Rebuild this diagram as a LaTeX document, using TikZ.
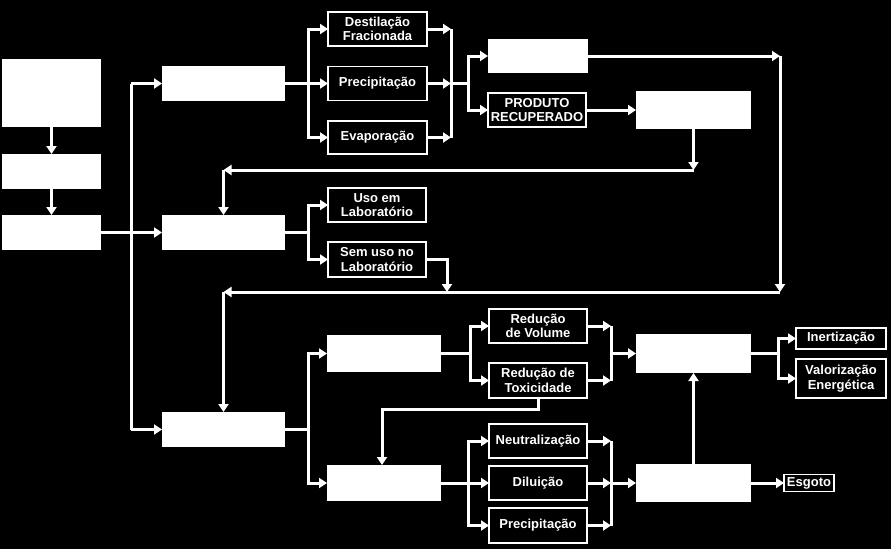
\documentclass[tikz,border=0pt]{standalone}
\usepackage{fontspec}
\setmainfont{Liberation Sans}
\usetikzlibrary{arrows.meta}
\begin{document}
\begin{tikzpicture}[x=1pt,y=-1pt,
  sz/.style 2 args={minimum width=#1pt,minimum height=#2pt},
  filled/.style={fill=white,draw=none,inner sep=0pt,outer sep=0pt},
  outl/.style={draw=white,line width=1.5pt,text=white,inner sep=0pt,outer sep=0pt,
    align=center,font=\bfseries\fontsize{13}{14.5}\selectfont},
  link/.style={draw=white,line width=3pt},
  arr/.style={link,-{Triangle[length=8pt,width=10pt]}}]
\useasboundingbox[fill=black] (0,0) rectangle (891,549);

% filled boxes
\node[filled,sz={99}{68}] (a) at (51.5,93) {};
\node[filled,sz={99}{35}] (b) at (51.5,171.5) {};
\node[filled,sz={99}{35}] (c) at (51.5,232.5) {};
\node[filled,sz={123}{35}] (d) at (223.5,83.5) {};
\node[filled,sz={123}{35}] (e) at (223.5,232.5) {};
\node[filled,sz={123}{35}] (h) at (223.5,429.5) {};
\node[filled,sz={100}{34}] (f) at (538,56) {};
\node[filled,sz={115}{38}] (g) at (693.5,110) {};
\node[filled,sz={114}{37}] (i) at (384,353.5) {};
\node[filled,sz={114}{36}] (j) at (384,483) {};
\node[filled,sz={115}{39}] (k) at (693.5,353.5) {};
\node[filled,sz={115}{38}] (l) at (693.5,483) {};

% outlined boxes
\node[outl,sz={99}{34}] (dest) at (377.5,29) {Destilação\\Fracionada};
\node[outl,sz={99}{34}] (prec1) at (377.5,83.5) {Precipitação};
\node[outl,sz={99}{33}] (evap) at (377.5,137.5) {Evaporação};
\node[outl,sz={98}{34}] (prod) at (537,110) {PRODUTO\\RECUPERADO};
\node[outl,sz={98}{34}] (uso) at (377,205) {Uso em\\Laboratório};
\node[outl,sz={98}{35}] (sem) at (377,259.5) {Sem uso no\\Laboratório};
\node[outl,sz={98}{34}] (redv) at (538,326) {Redução\\de Volume};
\node[outl,sz={98}{35}] (redt) at (538,380.5) {Redução de\\Toxicidade};
\node[outl,sz={98}{34}] (neut) at (538,441) {Neutralização};
\node[outl,sz={98}{34}] (dil) at (538,483) {Diluição};
\node[outl,sz={98}{35}] (prec2) at (538,525.5) {Precipitação};
\node[outl,sz={90}{21}] (inert) at (841,338.5) {Inertização};
\node[outl,sz={90}{39}] (valor) at (841,378.5) {Valorização\\Energética};
\node[outl,sz={50}{17}] (esg) at (809,483) {Esgoto};

% coordinates
\coordinate (t1) at (131,83.5);
\coordinate (t2) at (131,429.5);
\coordinate (s1) at (308,83.5);
\coordinate (m1) at (451,83.5);
\coordinate (s2) at (468,83.5);
\coordinate (r1) at (780,56);
\coordinate (r2) at (780,292);
\coordinate (r3) at (223.5,292);
\coordinate (q1) at (693.5,170);
\coordinate (q2) at (223.5,170);
\coordinate (s3) at (308,232.5);
\coordinate (p1) at (447,292);
\coordinate (s4) at (308,429.5);
\coordinate (s5) at (470,353.5);
\coordinate (m2) at (611,353.5);
\coordinate (u2) at (382,409);
\coordinate (s6) at (778,353.5);
\coordinate (s7) at (468,483);
\coordinate (m3) at (611,483);

% left column
\draw[arr] (a) -- (b);
\draw[arr] (b) -- (c);
\draw[arr] (c.east) -- (e.west);
\draw[link] (t1) -- (t2);
\draw[arr] (t1) -- (d.west);
\draw[arr] (t2) -- (h.west);

% top branch
\draw[arr] (d.east) -- (prec1.west);
\draw[arr] (s1) |- (dest.west);
\draw[arr] (s1) |- (evap.west);
\draw[arr] (dest.east) -- (dest.east -| m1);
\draw[arr] (prec1.east) -- (m1);
\draw[arr] (evap.east) -- (evap.east -| m1);
\draw[link] (dest.east -| m1) -- (evap.east -| m1);
\draw[link] (m1) -- (s2);
\draw[arr] (s2) |- (f.west);
\draw[arr] (s2) |- (prod.west);
\draw[arr] (prod) -- (g);
\draw[arr] (f.east) -- (r1);
\draw[arr] (r1) -- (r2);
\draw[arr] (r2) -- (r3);
\draw[arr] (r3) -- (h.north);
\draw[arr] (g.south) -- (q1);
\draw[arr] (q1) -- (q2);
\draw[arr] (q2) -- (e.north);

% middle branch
\draw[link] (e.east) -- (s3);
\draw[arr] (s3) |- (uso.west);
\draw[arr] (s3) |- (sem.west);
\draw[arr] (sem.east) -| (p1);

% bottom branch
\draw[link] (h.east) -- (s4);
\draw[arr] (s4) |- (i.west);
\draw[arr] (s4) |- (j.west);
\draw[link] (i.east) -- (s5);
\draw[arr] (s5) |- (redv.west);
\draw[arr] (s5) |- (redt.west);
\draw[arr] (redv.east) -- (redv.east -| m2);
\draw[arr] (redt.east) -- (redt.east -| m2);
\draw[link] (redv.east -| m2) -- (redt.east -| m2);
\draw[arr] (m2) -- (k.west);
\draw[arr] (redt.south) |- (u2) -- (u2 |- j.north);
\draw[link] (k.east) -- (s6);
\draw[arr] (s6) |- (inert.west);
\draw[arr] (s6) |- (valor.west);
\draw[link] (j.east) -- (s7);
\draw[arr] (s7) |- (neut.west);
\draw[arr] (s7) -- (dil.west);
\draw[arr] (s7) |- (prec2.west);
\draw[arr] (neut.east) -- (neut.east -| m3);
\draw[arr] (dil.east) -- (m3);
\draw[arr] (prec2.east) -- (prec2.east -| m3);
\draw[link] (neut.east -| m3) -- (prec2.east -| m3);
\draw[arr] (m3) -- (l.west);
\draw[arr] (l.north) -- (k.south);
\draw[arr] (l.east) -- (esg.west);
\end{tikzpicture}
\end{document}
